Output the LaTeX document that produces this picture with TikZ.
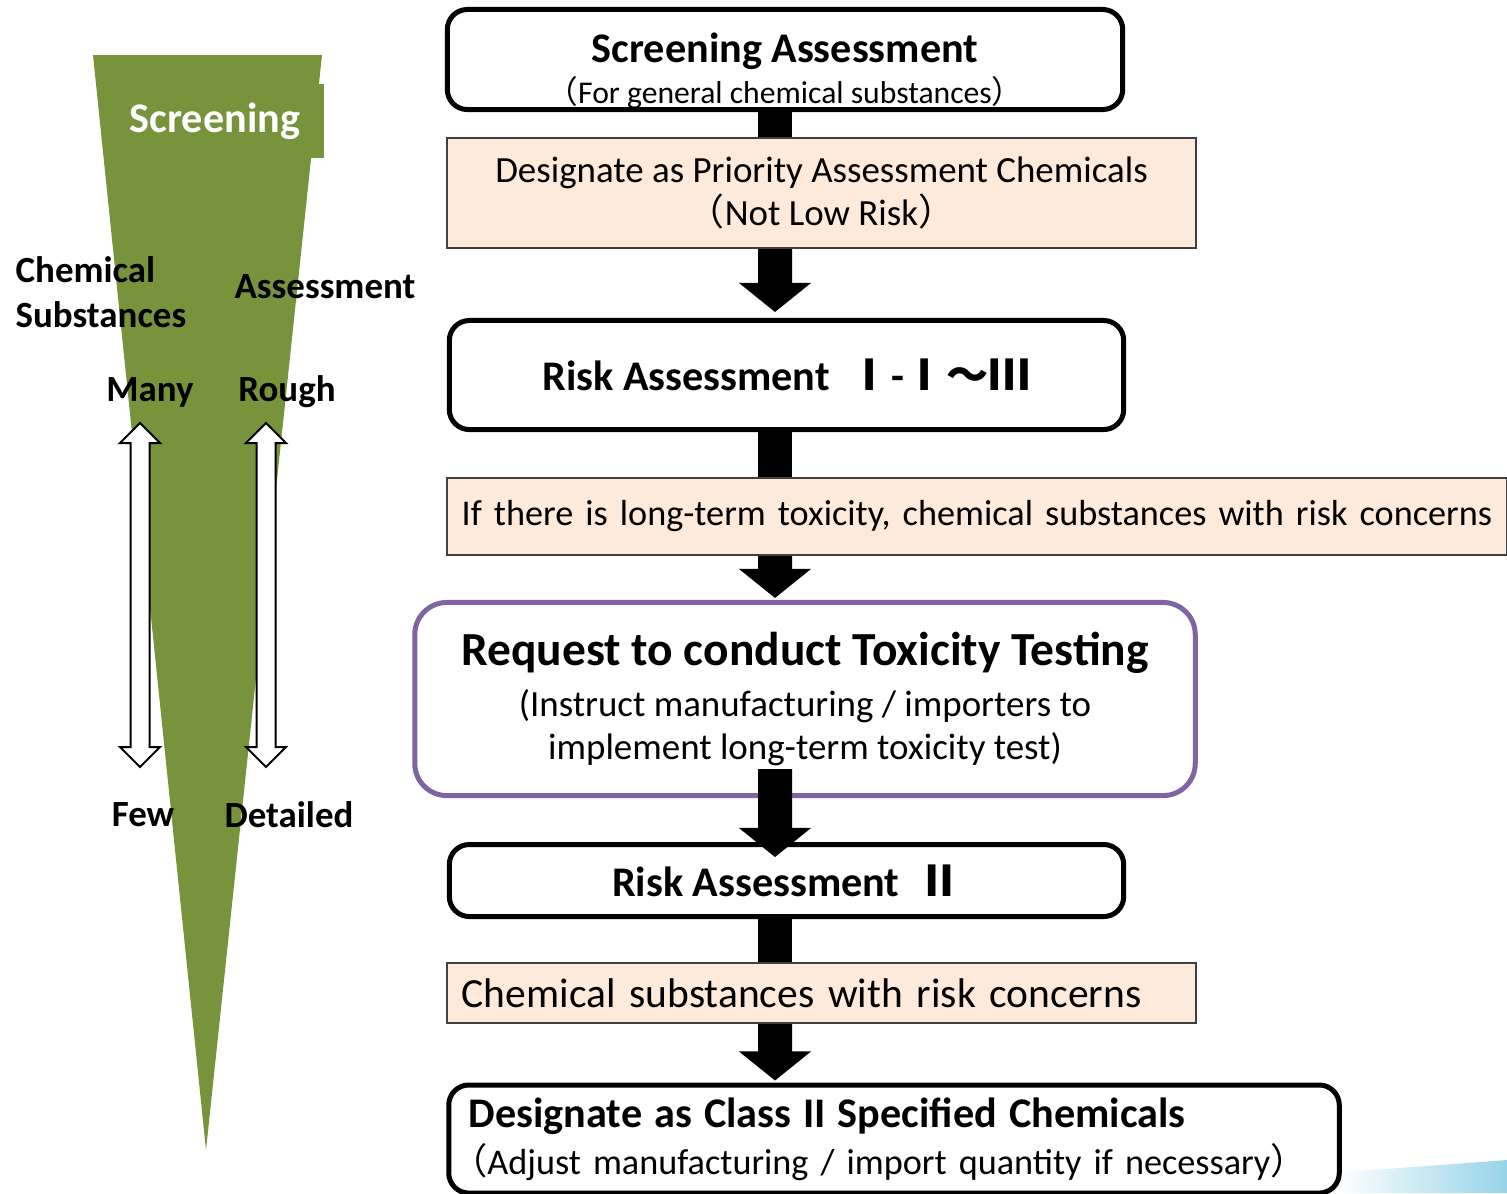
\documentclass[tikz,border=0pt]{standalone}
\usepackage{fontspec}
\setmainfont{Carlito}
\newfontfamily\cjk{Noto Sans CJK JP}
\usetikzlibrary{calc}

\definecolor{leafgreen}{RGB}{119,147,59}
\definecolor{peach}{RGB}{253,234,218}
\definecolor{notegray}{RGB}{64,64,64}
\definecolor{testpurple}{RGB}{128,100,162}
\definecolor{swoosh}{RGB}{150,212,232}

% black block arrow: #1 start, #2 tip (tip keeps the x of the start)
\newcommand\flowarrow[2]{%
  \fill[black] let \p1=#1, \p2=#2 in
    (\x1-0.17cm,\y1) -- (\x1+0.17cm,\y1) -- (\x1+0.17cm,\y2+0.29cm)
    -- (\x1+0.36cm,\y2+0.29cm) -- (\x1,\y2) -- (\x1-0.36cm,\y2+0.29cm)
    -- (\x1-0.17cm,\y2+0.29cm) -- cycle;}
% black shaft only
\newcommand\flowshaft[2]{%
  \fill[black] let \p1=#1, \p2=#2 in (\x1-0.17cm,\y1) rectangle (\x1+0.17cm,\y2);}

\begin{document}
\begin{tikzpicture}[
  x=0.01cm, y=-0.01cm,
  flowbox/.style={draw=black, line width=0.05cm, rounded corners=0.2cm, fill=white, align=center, inner sep=0pt},
  notebox/.style={draw=notegray, line width=0.02cm, fill=peach, inner sep=0pt},
  sidelabel/.style={font=\bfseries\fontsize{10.5}{12.8}\selectfont, inner sep=0pt},
  bodyfont/.style={font=\fontsize{10.5}{12.3}\selectfont}
]
  \useasboundingbox (0,0) rectangle (1507,1193);

  % Cono de la evaluación
  \fill[leafgreen] (93,55) -- (322,55) -- (206,1150) -- cycle;
  \node[fill=leafgreen, text=white, font=\bfseries\fontsize{12}{14}\selectfont,
        minimum width=2.18cm, minimum height=0.74cm, inner sep=0pt] (scr) at (215,121) {Screening};

  % Etiquetas laterales
  \node[sidelabel, anchor=west, align=left] (chem) at (15,292) {Chemical\\Substances};
  \node[sidelabel] (asmt) at (325,287) {Assessment};
  \node[sidelabel] (many) at (150,392) {Many};
  \node[sidelabel] (rough) at (287,392) {Rough};
  \node[sidelabel] (few) at (143,815) {Few};
  \node[sidelabel] (detl) at (289,815) {Detailed};

  % Flechas dobles huecas
  \foreach \cx in {140,266} {
    \draw[black, line width=0.02cm, fill=white]
      (\cx,423) -- (\cx+20,443) -- (\cx+9.5,443) -- (\cx+9.5,747) -- (\cx+20,747)
      -- (\cx,767) -- (\cx-20,747) -- (\cx-9.5,747) -- (\cx-9.5,443) -- (\cx-20,443) -- cycle;
  }

  % Franja azul inferior
  \shade[left color=white, right color=swoosh] (1335,1193) -- (1345,1172) -- (1507,1160) -- (1507,1193) -- cycle;

  \coordinate (ax) at (775,0);

  % Cajas del flujo
  \node[flowbox, minimum width=6.75cm, minimum height=1.0cm, font=\fontsize{9}{12.8}\selectfont] (sa) at (785,59.5)
    {\rule{0pt}{15pt}{\bfseries\fontsize{12}{14}\selectfont Screening Assessment}\\[-1pt]{\cjk （}For general chemical substances{\cjk ）}};
  \node[notebox, minimum width=7.49cm, minimum height=1.1cm, align=center, bodyfont] (pr) at (821.5,193)
    {Designate as Priority Assessment Chemicals\\{\cjk （}Not Low Risk{\cjk ）}};
  \node[flowbox, minimum width=6.74cm, minimum height=1.09cm, font=\bfseries\fontsize{12}{14}\selectfont] (r1) at (786.5,375)
    {Risk Assessment\ \ {\cjk Ⅰ}-{\cjk Ⅰ～Ⅲ}};
  \node[notebox, text width=10.3cm, inner xsep=0.15cm, minimum height=0.77cm, align=left, font=\fontsize{10.3}{12.3}\selectfont] (lt) at (977,516.5)
    {\mbox{If there is long-term toxicity, chemical substances with risk concerns}};
  \node[flowbox, draw=testpurple, rounded corners=0.32cm, minimum width=7.8cm, minimum height=1.93cm, bodyfont] (rq) at (805,699)
    {{\bfseries\fontsize{13.5}{16}\selectfont Request to conduct Toxicity Testing}\\[2pt](Instruct manufacturing / importers to\\implement long-term toxicity test)};
  \node[flowbox, minimum width=6.74cm, minimum height=0.72cm, font=\bfseries\fontsize{12}{14}\selectfont] (r2) at (786.5,880.5)
    {Risk Assessment\ \ {\cjk Ⅱ}};
  \node[notebox, text width=7.19cm, inner xsep=0.15cm, minimum height=0.6cm, align=left, font=\fontsize{11.8}{14}\selectfont] (cr) at (821.5,993)
    {\mbox{Chemical substances with risk concerns}};
  \node[flowbox, text width=8.5cm, inner xsep=0.2cm, minimum height=1.08cm, align=left, font=\fontsize{10.3}{12.3}\selectfont] (cl) at (894,1139)
    {\mbox{\bfseries\fontsize{12}{14}\selectfont Designate as Class II Specified Chemicals}\\[1pt]\mbox{\hspace{-5pt}{\cjk （}Adjust manufacturing / import quantity if necessary{\cjk ）}}};

  % Flechas negras
  \flowshaft{(sa.south -| ax)}{(pr.north -| ax)}
  \flowarrow{(pr.south -| ax)}{([yshift=0.06cm]r1.north)}
  \flowshaft{(r1.south -| ax)}{(lt.north -| ax)}
  \flowarrow{(lt.south -| ax)}{([yshift=0.02cm]rq.north)}
  \flowarrow{([yshift=0.29cm]rq.south -| ax)}{([yshift=-0.15cm]r2.north)}
  \flowshaft{(r2.south -| ax)}{(cr.north -| ax)}
  \flowarrow{(cr.south -| ax)}{([yshift=0.02cm]cl.north)}
\end{tikzpicture}
\end{document}
